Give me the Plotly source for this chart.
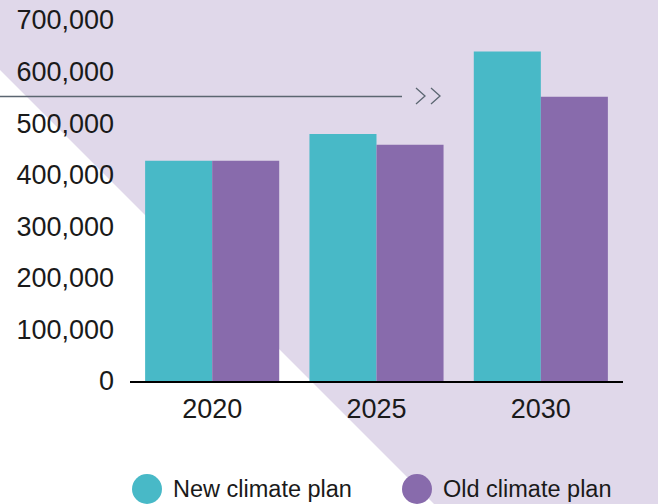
import plotly.graph_objects as go

# Data
years = ["2020", "2025", "2030"]
new_plan = [427000, 479000, 639000]
old_plan = [427000, 458000, 551000]
series_names = ["New climate plan", "Old climate plan"]
y_ticks = [0, 100000, 200000, 300000, 400000, 500000, 600000, 700000]

TEAL = "#48B9C7"
PURPLE = "#886BAC"
LAVENDER = "#E0D8EA"
RULE = "#5B6671"
FONT = "Liberation Sans, Arial, sans-serif"

W, H = 658, 504
L, R, T, B = 130, 35, 20, 123
PW, PH = W - L - R, H - T - B


def px(x):
    return (x - L) / PW


def py(y):
    return (H - B - y) / PH


fig = go.Figure()
fig.add_trace(go.Bar(x=years, y=new_plan, name=series_names[0],
                     marker=dict(color=TEAL, line=dict(width=0))))
fig.add_trace(go.Bar(x=years, y=old_plan, name=series_names[1],
                     marker=dict(color=PURPLE, line=dict(width=0))))

shapes = []
# white corner triangle on the lavender page (45° edge, overshooting the page)
shapes.append(dict(type="path", xref="paper", yref="paper", layer="below",
                   path=(f"M {px(-20)} {py(50)} L {px(-20)} {py(H + 40)} "
                         f"L {px(H + 40 - 70)} {py(H + 40)} Z"),
                   fillcolor="white", line=dict(width=0)))
# thin rule with double chevron
shapes.append(dict(type="line", xref="paper", yref="paper",
                   x0=px(-5), x1=px(402), y0=py(96.5), y1=py(96.5),
                   line=dict(color=RULE, width=1.5)))
for cx in (416, 431):
    shapes.append(dict(type="path", xref="paper", yref="paper",
                       path=f"M {px(cx)} {py(88)} L {px(cx + 9)} {py(96)} L {px(cx)} {py(104)}",
                       line=dict(color=RULE, width=1.3)))

# legend circles and labels
annotations = []
for name, color, cx in zip(series_names, [TEAL, PURPLE], [147, 417]):
    shapes.append(dict(type="circle", xref="paper", yref="paper",
                       xsizemode="pixel", ysizemode="pixel",
                       xanchor=px(cx), yanchor=py(489),
                       x0=-15, x1=15, y0=-15, y1=15,
                       fillcolor=color, line=dict(width=0)))
    annotations.append(dict(xref="paper", yref="paper", x=px(cx + 23.5), y=py(489),
                            xanchor="left", yanchor="middle", showarrow=False,
                            text=name, font=dict(family=FONT, size=23.5, color="#1a1a1a")))

fig.update_layout(
    width=W, height=H,
    margin=dict(l=L, r=R, t=T, b=B, pad=0, autoexpand=False),
    paper_bgcolor=LAVENDER,
    plot_bgcolor="rgba(0,0,0,0)",
    barmode="group",
    bargap=0.184,
    bargroupgap=0,
    showlegend=False,
    shapes=shapes,
    annotations=annotations,
    font=dict(family=FONT, size=27, color="#1a1a1a"),
    xaxis=dict(showline=True, linecolor="black", linewidth=2, showgrid=False,
               automargin=False, ticks="",
               tickfont=dict(family=FONT, size=27, color="#1a1a1a"),
               ticklabelstandoff=3),
    yaxis=dict(range=[0, 700000], tickvals=y_ticks, tickformat=",",
               automargin=False, showline=False, showgrid=False, zeroline=False,
               ticks="", tickfont=dict(family=FONT, size=27, color="#1a1a1a"),
               ticklabelstandoff=15),
)

fig.write_html("out.html")
